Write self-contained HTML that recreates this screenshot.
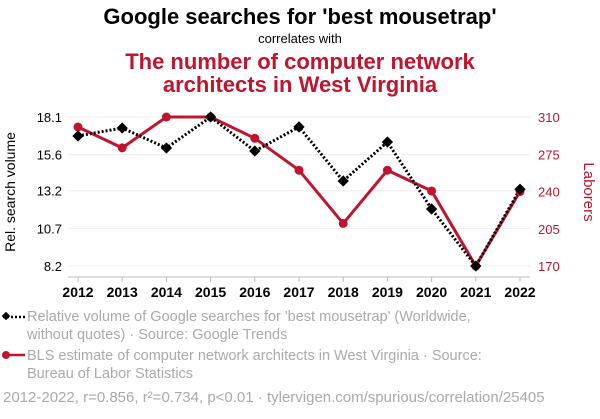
<!DOCTYPE html>
<html><head><meta charset="utf-8"><style>
body{margin:0;background:#fff;width:600px;height:414px;overflow:hidden;font-family:"Liberation Sans",sans-serif}
</style></head><body>
<svg width="600" height="414" font-family="Liberation Sans, sans-serif">
<text x="300" y="24" text-anchor="middle" font-size="22" font-weight="bold" fill="#000">Google searches for 'best mousetrap'</text>
<text x="300" y="43" text-anchor="middle" font-size="13" fill="#000">correlates with</text>
<text x="300" y="69" text-anchor="middle" font-size="22" font-weight="bold" fill="#c0152f">The number of computer network</text>
<text x="300" y="92" text-anchor="middle" font-size="22" font-weight="bold" fill="#c0152f">architects in West Virginia</text>
<g id="grid"></g>
<g id="axes"></g>
<text transform="translate(15,192) rotate(-90)" text-anchor="middle" font-size="14" fill="#000">Rel. search volume</text>
<text transform="translate(584,192) rotate(90)" text-anchor="middle" font-size="15" fill="#c0152f">Laborers</text>
<g id="marks"></g>
<g>
<line x1="3" y1="317" x2="25" y2="317" stroke="#000" stroke-width="2.5" stroke-dasharray="2,2"/>
<rect x="3" y="313" width="6" height="6" fill="#000" transform="rotate(45 6 316)"/>
<text x="27" y="321" font-size="14.5" fill="#aaa">Relative volume of Google searches for 'best mousetrap' (Worldwide,</text>
<text x="27" y="339" font-size="14.5" fill="#aaa">without quotes) · Source: Google Trends</text>
</g>
<g>
<line x1="3" y1="355" x2="25" y2="355" stroke="#c0152f" stroke-width="2.5"/>
<circle cx="6" cy="355" r="4" fill="#c0152f"/>
<text x="27" y="360" font-size="14.5" fill="#aaa">BLS estimate of computer network architects in West Virginia · Source:</text>
<text x="27" y="378" font-size="14.5" fill="#aaa">Bureau of Labor Statistics</text>
</g>
<text x="3" y="402" font-size="15" fill="#aaa">2012-2022, r=0.856, r²=0.734, p&lt;0.01 · tylervigen.com/spurious/correlation/25405</text>
</svg>
<script>
const years=[2012,2013,2014,2015,2016,2017,2018,2019,2020,2021,2022];
const searches=[16.84,17.37,16.04,18.1,15.84,17.44,13.85,16.44,11.99,8.2,13.3];
const laborers=[300.6,281,310,310,290,260,210,260,240.5,170,240];
const leftTicks=[8.2,10.7,13.2,15.6,18.1];
const rightTicks=[170,205,240,275,310];
const NS="http://www.w3.org/2000/svg";
const x=i=>78+(520-78)*(years[i]-2012)/10;
const yL=v=>266-(v-8.2)*(149/9.9);
const yR=v=>266-(v-170)*(149/140);
function mk(t,a,p){const e=document.createElementNS(NS,t);for(const k in a)e.setAttribute(k,a[k]);p.appendChild(e);return e;}
const grid=document.getElementById('grid'),axes=document.getElementById('axes'),marks=document.getElementById('marks');
leftTicks.forEach(v=>{
 const g=mk('line',{x1:68,x2:530,y1:yL(v),y2:yL(v),stroke:'#eee','stroke-width':1},grid);
 
 
 const t=mk('text',{x:62,y:yL(v)+5,'text-anchor':'end','font-size':13,fill:'#000'},axes);
 t.textContent=v.toFixed(1);
 
 
});
rightTicks.forEach(v=>{
 const t=mk('text',{x:538,y:yR(v)+5,'font-size':13,fill:'#c0152f'},axes);
 t.textContent=v;
 
 
});
const ax=mk('line',{x1:68,x2:530,y1:277,y2:277,stroke:'#bbb'},axes);


years.forEach((yr,i)=>{
 mk('line',{x1:x(i),x2:x(i),y1:277,y2:282,stroke:'#bbb'},axes);
 const t=mk('text',{x:x(i),y:297,'text-anchor':'middle','font-size':14,'font-weight':'bold',fill:'#000'},axes);
 t.textContent=yr;
 
 
});
const rl=mk('polyline',{points:laborers.map((v,i)=>x(i)+','+yR(v)).join(' '),fill:'none',stroke:'#c0152f','stroke-width':3},marks);


const bl=mk('polyline',{points:searches.map((v,i)=>x(i)+','+yL(v)).join(' '),fill:'none',stroke:'#000','stroke-width':3,'stroke-dasharray':'2,2'},marks);


laborers.forEach((v,i)=>{
 const c=mk('circle',{cx:x(i),cy:yR(v),r:4.5,fill:'#c0152f'},marks);
 
 
});
searches.forEach((v,i)=>{
 const r=mk('rect',{x:x(i)-4,y:yL(v)-4,width:8,height:8,fill:'#000',transform:`rotate(45 ${x(i)} ${yL(v)})`},marks);
 
 
});
</script>
</body></html>
